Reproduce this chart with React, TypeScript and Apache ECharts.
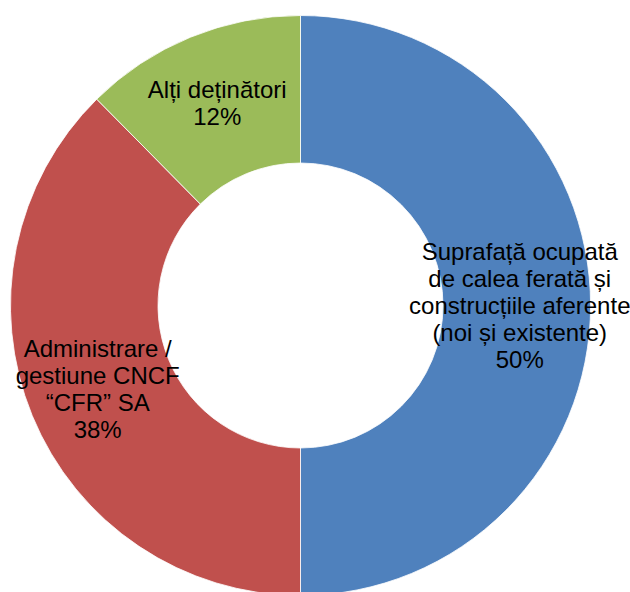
import React, { useEffect, useRef } from "react";
import * as echarts from "echarts";

const categories: string[] = [
  "Suprafață ocupată\nde calea ferată și\nconstrucțiile aferente\n(noi și existente)",
  "Administrare /\ngestiune CNCF\n“CFR” SA",
  "Alți deținători",
];
const values: number[] = [50, 37.6, 12.4];
const colors: string[] = ["#4F81BD", "#C0504D", "#9BBB59"];

export default function App() {
  const ref = useRef<HTMLDivElement>(null);
  useEffect(() => {
    if (!ref.current) return;
    const chart = echarts.init(ref.current, null, { renderer: "svg" });
    chart.setOption({
      animation: false,
      backgroundColor: "#ffffff",
      series: [
        {
          type: "pie",
          center: [300.5, 305.5],
          radius: [142.5, 290],
          startAngle: 90,
          clockwise: true,
          avoidLabelOverlap: false,
          data: categories.map((name, i) => ({
            name,
            value: values[i],
            itemStyle: { color: colors[i] },
          })),
          itemStyle: { borderColor: "#ffffff", borderWidth: 0.8 },
          label: {
            show: true,
            position: "inside",
            color: "#000000",
            fontFamily: "Liberation Sans, Arial, sans-serif",
            fontSize: 24,
            lineHeight: 27,
            align: "center",
            formatter: (p: any) => `${p.name}\n${Math.round(p.percent)}%`,
          },
          labelLine: { show: false },
          emphasis: { disabled: true },
        },
      ],
    });
    return () => chart.dispose();
  }, []);
  return (
    <div
      ref={ref}
      style={{ position: "fixed", left: 0, top: 0, width: 630, height: 592 }}
    />
  );
}
